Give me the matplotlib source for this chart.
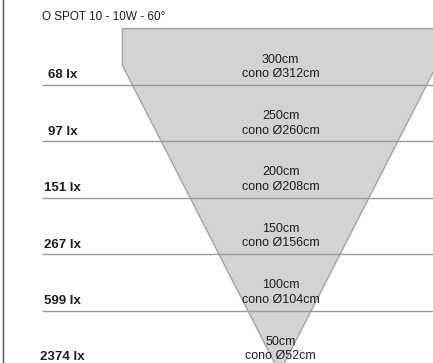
#!/usr/bin/env python3
"""Beam cone diagram for O SPOT 10 - 10W - 60°."""

import matplotlib

matplotlib.use("Agg")
import matplotlib.pyplot as plt
import numpy as np
from matplotlib.patches import Polygon

plt.rcParams["font.family"] = ["Liberation Sans", "DejaVu Sans"]

title = "O SPOT 10 - 10W - 60°"
distances_cm = [300, 250, 200, 150, 100, 50]
cone_diam_cm = [312, 260, 208, 156, 104, 52]
lux = [68, 97, 151, 267, 599, 2374]

FILL = "#d3d3d3"
EDGE = "#a3a3a3"
LINE = "#9a9a9a"
TEXT = "#1e1e1e"

W, H = 433, 363
fig = plt.figure(figsize=(W / 100, H / 100), dpi=100)
ax = fig.add_axes([3 / W, 0, 1 - 3 / W, 1])

# 1.13 px per cm horizontally, 1.128 px per cm vertically
ax.set_xlim(-244.7, 135.8)
ax.set_ylim(3.5, 325.4)

for side in ("top", "right", "bottom"):
    ax.spines[side].set_visible(False)
ax.spines["left"].set_color("#555555")
ax.spines["left"].set_linewidth(1.0)
ax.set_xticks([])
ax.set_yticks([])

# cone, clipped left/right like the original
d_top = distances_cm[0]
half_top = cone_diam_cm[0] / 2
clip = 139.0
d_kink = d_top * clip / half_top
cone = np.array([
    [0, -5],
    [clip, d_kink],
    [clip, d_top],
    [-clip, d_top],
    [-clip, d_kink],
])
ax.add_patch(Polygon(cone, closed=True, facecolor=FILL, edgecolor=EDGE,
                     linewidth=1.0, zorder=1))

# distance lines between bands
ax.hlines(distances_cm[1:], -210, 140, colors=LINE, linewidth=1.0, zorder=2)

for d, dia, lx in zip(distances_cm, cone_diam_cm, lux):
    ax.text(1.0, d - 34, f"{d}cm\ncono Ø{dia}cm", ha="center", va="center",
            fontsize=9, color=TEXT, linespacing=1.3, zorder=3)
    ax.text(-192, d - 41.5, f"{lx} lx", ha="center", va="center",
            fontsize=9.5, fontweight="bold", color=TEXT, zorder=3)

fig.text(42 / W, 1 - 16.5 / H, title, ha="left", va="center",
         fontsize=8.5, color=TEXT)

fig.savefig("out.png", dpi=100)
